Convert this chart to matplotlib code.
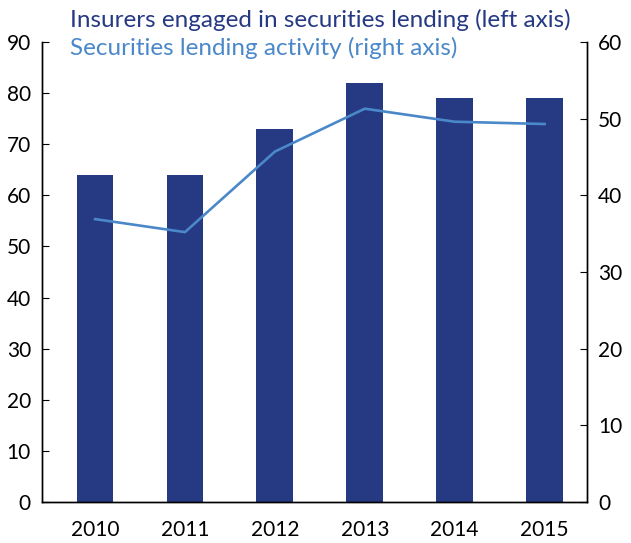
import matplotlib
matplotlib.use("Agg")
import matplotlib.pyplot as plt
import numpy as np

plt.rcParams["font.family"] = ["Lato", "DejaVu Sans"]

years = ["2010", "2011", "2012", "2013", "2014", "2015"]
insurers = [64, 64, 73, 82, 79, 79]          # left axis
activity = [36.9, 35.2, 45.7, 51.3, 49.6, 49.3]  # right axis

barColor = "#263983"
lineColor = "#4b88c9"

fig = plt.figure(figsize=(6.31, 5.43), dpi=100)
ax = fig.add_axes([0.0666, 0.0755, 0.8634, 0.8472])
ax2 = ax.twinx()

x = np.arange(len(years))
ax.bar(x, insurers, width=0.41, color=barColor)
ax2.plot(x, activity, color=lineColor, linewidth=1.9)

ax.set_xlim(-0.59, 5.47)
ax.set_ylim(0, 90)
ax.set_yticks(np.arange(0, 91, 10))
ax2.set_ylim(0, 60)
ax2.set_yticks(np.arange(0, 61, 10))

ax.set_xticks(x)
ax.set_xticklabels(years)
ax.tick_params(axis="x", length=0, pad=13, labelsize=15)
ax.tick_params(axis="y", direction="in", length=5, pad=8, labelsize=15)
ax2.tick_params(axis="y", direction="in", length=5, pad=8, labelsize=15)

for a in (ax, ax2):
    a.spines["top"].set_visible(False)
    for s in ("left", "right", "bottom"):
        a.spines[s].set_linewidth(1.0)

# legend as coloured text, no markers
fig.text(0.111, 0.963, "Insurers engaged in securities lending (left axis)",
         color=barColor, fontsize=17.5, va="center", ha="left")
fig.text(0.111, 0.911, "Securities lending activity (right axis)",
         color=lineColor, fontsize=17.5, va="center", ha="left")

fig.savefig("out.png", dpi=100)
